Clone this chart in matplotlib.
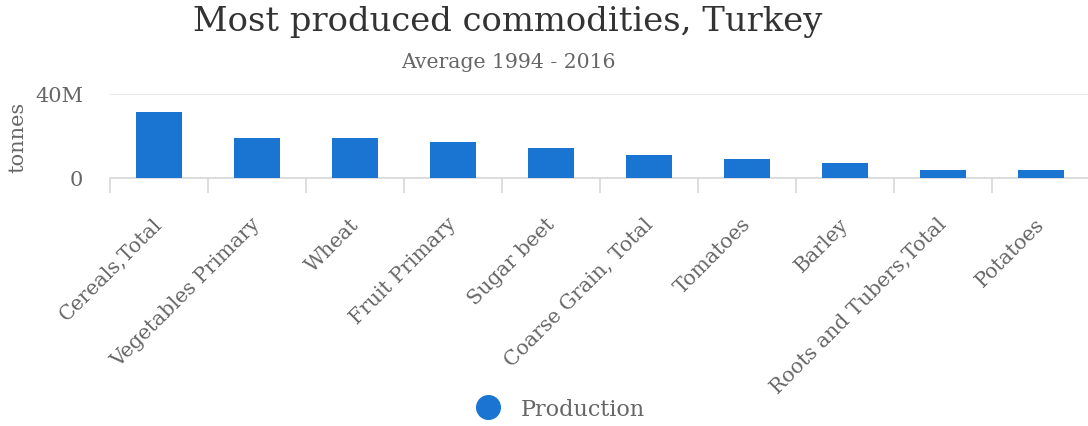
import matplotlib
matplotlib.use("Agg")
import matplotlib.pyplot as plt
from matplotlib.lines import Line2D
import matplotlib.transforms as mtransforms

categories = ["Cereals,Total", "Vegetables Primary", "Wheat", "Fruit Primary", "Sugar beet",
              "Coarse Grain, Total", "Tomatoes", "Barley", "Roots and Tubers,Total", "Potatoes"]
production = [31.4e6, 18.9e6, 18.9e6, 17.1e6, 14.4e6, 10.8e6, 9.0e6, 7.3e6, 3.8e6, 3.8e6]
yticks = [0, 40e6]
yticklabels = ["0", "40M"]

plt.rcParams['font.family'] = ['DejaVu Serif']
W, H = 1088, 427
fig = plt.figure(figsize=(W / 100, H / 100), dpi=100)
ax = fig.add_axes([110 / W, 1 - 179 / H, 980 / W, 84 / H])

bar_color = "#1a75d2"
x = list(range(len(categories)))
ax.bar(x, production, width=0.476, color=bar_color, zorder=3)
ax.set_xlim(-0.5, len(categories) - 0.5)
ax.set_ylim(0, 40e6)
ax.set_yticks(yticks)
ax.set_yticklabels(yticklabels, fontsize=15, color="#666666")
ax.tick_params(axis='y', length=0, pad=19.5)
ax.yaxis.grid(True, color="#e6e6e6", linewidth=1.2, zorder=0)

ax.set_xticks([i - 0.5 for i in range(len(categories) + 1)], minor=False)
ax.set_xticklabels([])
ax.tick_params(axis='x', length=11, color="#d8d8d8", width=1.2)
base = ax.get_xaxis_transform()
for i, c in enumerate(categories):
    tr = base + mtransforms.ScaledTranslation(-6 / 100, -36 / 100, fig.dpi_scale_trans)
    ax.text(i, 0, c, transform=tr, rotation=45,
            rotation_mode='anchor', ha='right', va='top', fontsize=14.7, color="#666666")

for s in ["top", "right", "left"]:
    ax.spines[s].set_visible(False)
ax.spines["bottom"].set_color("#d8d8d8")
ax.spines["bottom"].set_linewidth(1.2)

fig.text(18 / W, 1 - 137 / H, "tonnes", rotation=90, ha='center', va='center',
         fontsize=15, color="#666666")
fig.text(508 / W, 1 - 22 / H, "Most produced commodities, Turkey", ha='center', va='center',
         fontsize=24.4, color="#333333")
fig.text(508 / W, 1 - 63 / H, "Average 1994 - 2016", ha='center', va='center',
         fontsize=14.7, color="#666666")

handle = Line2D([], [], marker='o', linestyle='none', markersize=17, color=bar_color)
fig.legend([handle], ["Production"], loc='center', bbox_to_anchor=(560 / W, 1 - 410 / H),
           frameon=False, fontsize=16, labelcolor="#666666", handlelength=1.2,
           handletextpad=0.85)

fig.savefig("out.png", dpi=100, facecolor="white")
